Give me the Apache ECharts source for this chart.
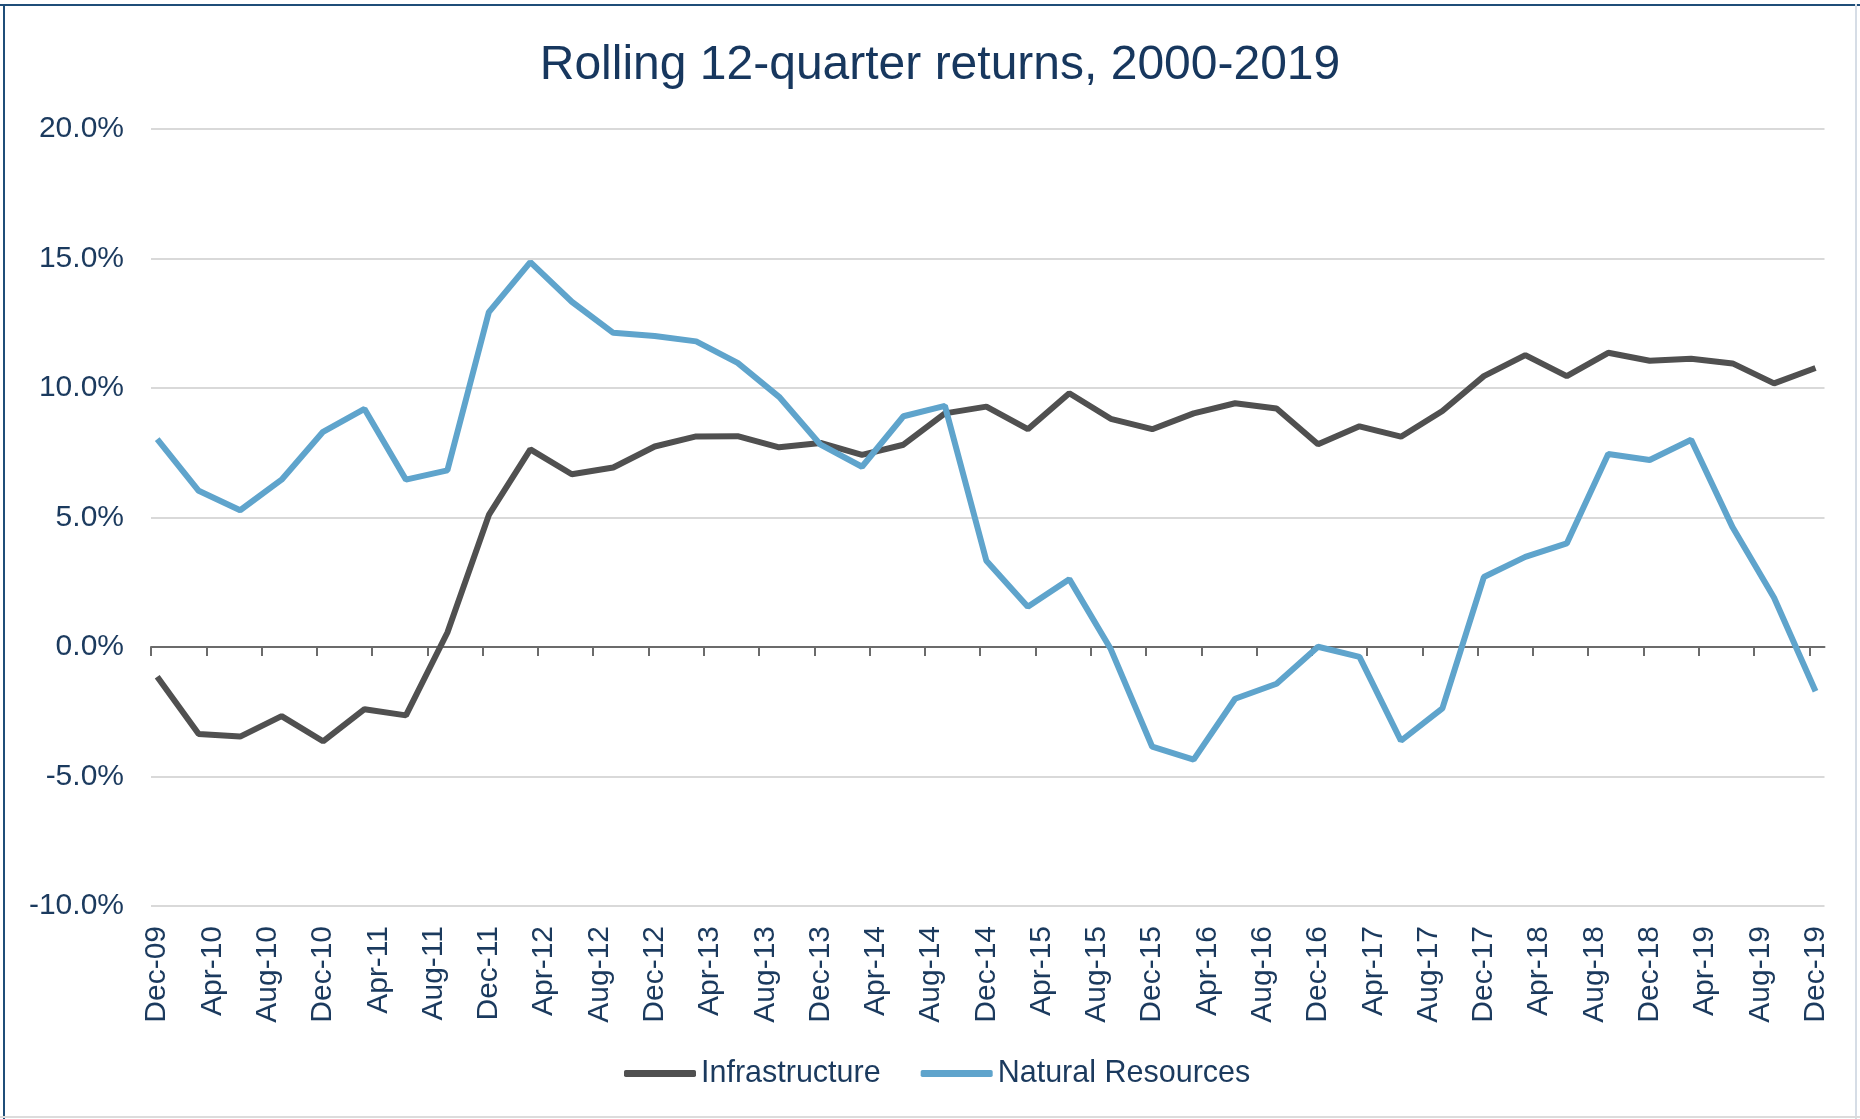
<!DOCTYPE html>
<html>
<head>
<meta charset="utf-8">
<title>Rolling 12-quarter returns</title>
<script src="https://cdn.jsdelivr.net/npm/echarts@6/dist/echarts.min.js"></script>
<style>
  html, body { margin: 0; padding: 0; background: #ffffff; }
  #myChart { width: 1860px; height: 1119px; }
</style>
</head>
<body>
<div id="myChart"></div>
<script>
// tick labels on the date axis, one every 4 months starting Dec-09
var tickLabels = ['Dec-09', 'Apr-10', 'Aug-10', 'Dec-10', 'Apr-11', 'Aug-11', 'Dec-11', 'Apr-12', 'Aug-12',
    'Dec-12', 'Apr-13', 'Aug-13', 'Dec-13', 'Apr-14', 'Aug-14', 'Dec-14', 'Apr-15', 'Aug-15', 'Dec-15',
    'Apr-16', 'Aug-16', 'Dec-16', 'Apr-17', 'Aug-17', 'Dec-17', 'Apr-18', 'Aug-18', 'Dec-18', 'Apr-19',
    'Aug-19', 'Dec-19'];

// quarterly observations, Dec-09 .. Dec-19
var quarters = ['Dec-09', 'Mar-10', 'Jun-10', 'Sep-10', 'Dec-10', 'Mar-11', 'Jun-11', 'Sep-11', 'Dec-11',
    'Mar-12', 'Jun-12', 'Sep-12', 'Dec-12', 'Mar-13', 'Jun-13', 'Sep-13', 'Dec-13', 'Mar-14', 'Jun-14',
    'Sep-14', 'Dec-14', 'Mar-15', 'Jun-15', 'Sep-15', 'Dec-15', 'Mar-16', 'Jun-16', 'Sep-16', 'Dec-16',
    'Mar-17', 'Jun-17', 'Sep-17', 'Dec-17', 'Mar-18', 'Jun-18', 'Sep-18', 'Dec-18', 'Mar-19', 'Jun-19',
    'Sep-19', 'Dec-19'];

// rolling 12-quarter returns, %
var infrastructure = [-1.15, -3.36, -3.46, -2.67, -3.64, -2.40, -2.64, 0.56, 5.10, 7.63, 6.67, 6.93, 7.74,
    8.13, 8.14, 7.71, 7.88, 7.42, 7.81, 9.02, 9.28, 8.41, 9.80, 8.81, 8.41, 9.02, 9.41, 9.21, 7.83, 8.52,
    8.12, 9.11, 10.46, 11.27, 10.46, 11.36, 11.05, 11.13, 10.95, 10.18, 10.77];
var naturalResources = [8.03, 6.03, 5.28, 6.46, 8.31, 9.19, 6.46, 6.82, 12.93, 14.86, 13.33, 12.13, 12.01,
    11.80, 10.97, 9.66, 7.81, 6.96, 8.91, 9.31, 3.33, 1.55, 2.62, -0.08, -3.85, -4.35, -2.00, -1.42, 0.01,
    -0.38, -3.62, -2.37, 2.70, 3.48, 4.00, 7.45, 7.22, 8.00, 4.62, 1.90, -1.71];

// months after Dec-09 (points are dated mid-month)
var MID = 0.45;
function monthOf(i) { return i * 3 + MID; }
var tickMonths = tickLabels.map(function (l, i) { return i * 4; });
var labelMonths = tickLabels.map(function (l, i) { return i * 4 + MID; });

function toPoints(values) {
    return values.map(function (v, i) { return [monthOf(i), v]; });
}

var navy = '#1b3a5e';
var font = "'Liberation Sans', Arial, sans-serif";

var myChart = echarts.init(document.getElementById('myChart'));

var option = {
    backgroundColor: '#ffffff',
    animation: false,
    title: {
        text: 'Rolling 12-quarter returns, 2000-2019',
        left: 935,
        textAlign: 'center',
        top: 37,
        textStyle: {
            color: '#17375e',
            fontFamily: font,
            fontSize: 48,
            fontWeight: 'normal'
        }
    },
    legend: {
        data: ['Infrastructure', 'Natural Resources'],
        left: 619,
        top: 1053,
        icon: 'roundRect',
        itemWidth: 72,
        itemHeight: 7,
        itemGap: 40,
        textStyle: {
            color: navy,
            fontFamily: font,
            fontSize: 30.5
        }
    },
    grid: {
        left: 151,
        right: 35.5,
        top: 129,
        bottom: 213
    },
    xAxis: [
        {
            // axis line + ticks sitting on zero
            type: 'value',
            min: 0,
            max: 121.1,
            axisLine: {
                onZero: true,
                lineStyle: { color: '#6b6b6b', width: 2 }
            },
            axisTick: {
                show: true,
                length: 9,
                customValues: tickMonths,
                lineStyle: { color: '#6b6b6b', width: 2 }
            },
            axisLabel: { show: false },
            splitLine: { show: false }
        },
        {
            // labels along the bottom of the plot
            type: 'value',
            position: 'bottom',
            min: 0,
            max: 121.1,
            axisLine: { show: false, onZero: false },
            axisTick: { show: false },
            splitLine: { show: false },
            axisLabel: {
                rotate: 90,
                margin: 20,
                customValues: labelMonths,
                color: navy,
                fontFamily: font,
                fontSize: 30,
                formatter: function (v) {
                    return tickLabels[Math.floor(v / 4)];
                }
            }
        }
    ],
    yAxis: {
        type: 'value',
        min: -10,
        max: 20,
        interval: 5,
        axisLine: { show: false },
        axisTick: { show: false },
        axisLabel: {
            margin: 27,
            color: navy,
            fontFamily: font,
            fontSize: 30,
            formatter: function (v) { return v.toFixed(1) + '%'; }
        },
        splitLine: {
            lineStyle: { color: '#d9d9d9', width: 2 }
        }
    },
    graphic: [
        { type: 'rect', shape: { x: 0, y: 4, width: 1860, height: 2 }, style: { fill: '#1f4e79' } },
        { type: 'rect', shape: { x: 3, y: 4, width: 2, height: 1115 }, style: { fill: '#1f4e79' } },
        { type: 'rect', shape: { x: 1855, y: 4, width: 2, height: 1115 }, style: { fill: '#d6dde6' } },
        { type: 'rect', shape: { x: 0, y: 1116, width: 1860, height: 2 }, style: { fill: '#dcdcdc' } }
    ],
    series: [
        {
            name: 'Infrastructure',
            type: 'line',
            xAxisIndex: 0,
            symbol: 'none',
            color: '#505050',
            lineStyle: { width: 6, color: '#505050' },
            data: toPoints(infrastructure)
        },
        {
            name: 'Natural Resources',
            type: 'line',
            xAxisIndex: 0,
            symbol: 'none',
            color: '#5fa4cc',
            lineStyle: { width: 6, color: '#5fa4cc' },
            data: toPoints(naturalResources)
        }
    ]
};

myChart.setOption(option);
</script>
</body>
</html>
